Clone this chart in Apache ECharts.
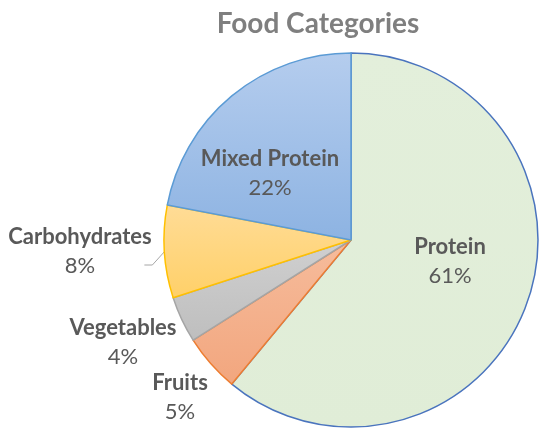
<!DOCTYPE html>
<html>
<head>
<meta charset="utf-8">
<script src="https://cdn.jsdelivr.net/npm/echarts@6/dist/echarts.min.js"></script>
<style>
html,body{margin:0;padding:0;background:#fff;}
#chart{width:550px;height:440px;}
</style>
</head>
<body>
<div id="chart"></div>
<script>
const categories = ['Protein', 'Fruits', 'Vegetables', 'Carbohydrates', 'Mixed Protein'];
const values = [61, 5, 4, 8, 22];
const percentLabels = ['61%', '5%', '4%', '8%', '22%'];

const fills = [
  ['#E3EFDB', '#E0EDD7'],
  ['#F6BC9C', '#F2A67E'],
  ['#D0D0D0', '#BEBEBE'],
  ['#FFDC97', '#FFD068'],
  ['#B5CDEE', '#8DB3E2']
];
const borders = ['#4A74BE', '#ED7D31', '#A5A5A5', '#FFC000', '#5B9BD5'];
// label anchor points (layout only)
const labelPos = [[450, 261], [180, 397], [123, 342], [80, 251], [270, 173]];
const insideLabel = [true, false, false, false, true];

const chart = echarts.init(document.getElementById('chart'));
const data = categories.map((name, i) => ({
  name: name,
  value: values[i],
  itemStyle: {
    color: new echarts.graphic.LinearGradient(0, 0, 0, 1, [
      {offset: 0, color: fills[i][0]},
      {offset: 1, color: fills[i][1]}
    ]),
    borderColor: borders[i],
    borderWidth: 1.5
  },
  label: {position: insideLabel[i] ? 'inside' : 'outside'},
  labelLine: {show: i === 3, lineStyle: {color: '#A6A6A6', width: 1}}
}));

chart.setOption({
  animation: false,
  title: {
    text: 'Food Categories',
    left: 313,
    textAlign: 'center',
    top: 5,
    textStyle: {fontFamily: 'Lato', fontSize: 28, fontWeight: 'bold', color: '#7F7F7F'}
  },
  series: [{
    type: 'pie',
    center: [351, 240],
    radius: 187,
    startAngle: 90,
    clockwise: true,
    avoidLabelOverlap: false,
    data: data,
    label: {
      show: true,
      formatter: function (p) { return '{b|' + p.name + '}\n{p|' + percentLabels[p.dataIndex] + '}'; },
      rich: {
        b: {fontFamily: 'Lato', fontSize: 22, fontWeight: 'bold', color: '#595959', lineHeight: 29, align: 'center'},
        p: {fontFamily: 'Lato', fontSize: 22, color: '#595959', lineHeight: 29, align: 'center'}
      }
    },
    labelLine: {show: true, length: 8, length2: 10},
    labelLayout: function (params) {
      const i = params.dataIndex;
      const res = {x: labelPos[i][0], y: labelPos[i][1], align: 'center', verticalAlign: 'middle'};
      if (i === 3 && params.labelLinePoints) {
        const p0 = params.labelLinePoints[0];
        const y2 = labelPos[i][1] + 14;
        res.labelLinePoints = [[p0[0], p0[1]], [p0[0] - 12, y2], [p0[0] - 20, y2]];
      }
      return res;
    }
  }]
});
</script>
</body>
</html>
